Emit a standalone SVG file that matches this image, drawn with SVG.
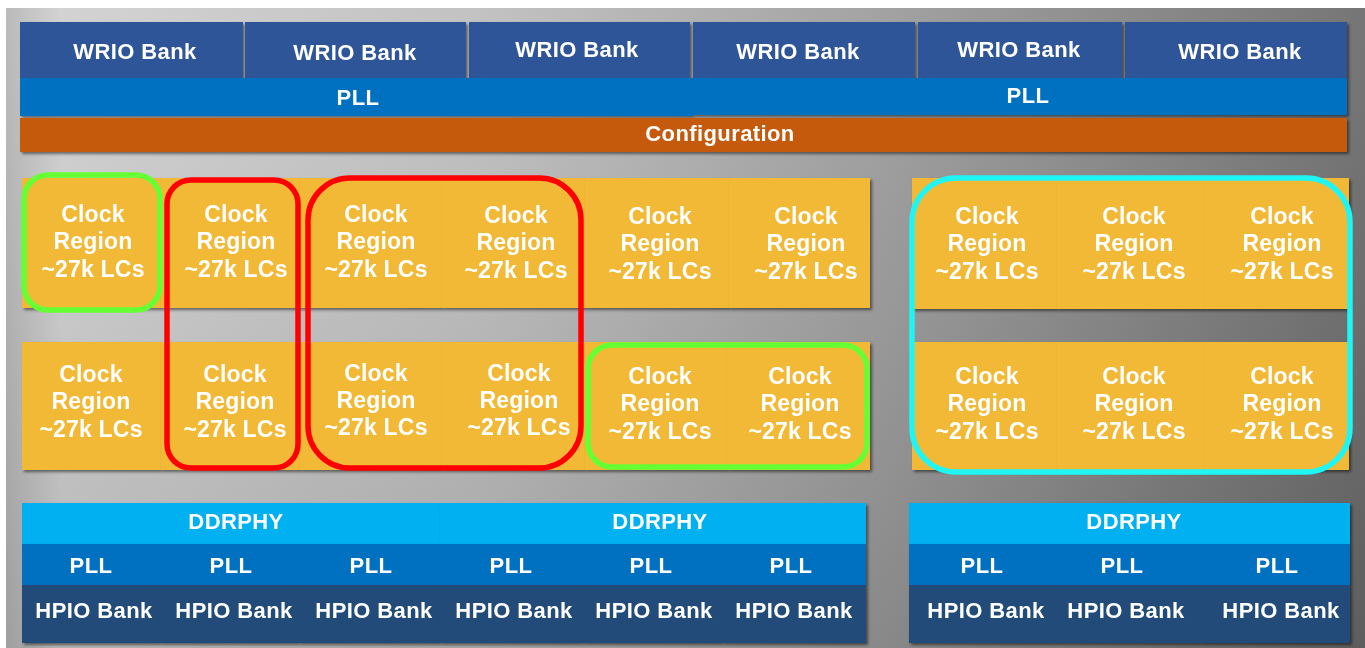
<svg xmlns="http://www.w3.org/2000/svg" width="1365" height="648" viewBox="0 0 1365 648">
<defs>
<linearGradient id="bg" x1="0" y1="0" x2="1" y2="0">
<stop offset="0" stop-color="#b4b4b4"/>
<stop offset="0.04" stop-color="#cfcfcf"/>
<stop offset="0.35" stop-color="#bdbdbd"/>
<stop offset="0.65" stop-color="#9a9a9a"/>
<stop offset="1" stop-color="#6a6a6a"/>
</linearGradient>
<linearGradient id="vg" x1="0" y1="0" x2="0" y2="1">
<stop offset="0" stop-color="#ffffff" stop-opacity="0.08"/>
<stop offset="1" stop-color="#000000" stop-opacity="0.12"/>
</linearGradient>
<filter id="sh" x="-10%" y="-10%" width="130%" height="130%">
<feDropShadow dx="2" dy="2" stdDeviation="1.5" flood-color="#000" flood-opacity="0.5"/>
</filter>
</defs>
<style>
text{font-family:"Liberation Sans",Arial,sans-serif;font-weight:bold;fill:#ffffff;text-anchor:middle;font-size:22px;letter-spacing:0.4px}
.ck{font-size:23px;letter-spacing:0.2px}
.wrio{fill:#2f5597}
.pll{fill:#0070c0}
.cfg{fill:#c55a11}
.tile{fill:#f1b934}
.ddr{fill:#00b0f0}
.hpio{fill:#204c79}
.hl{fill:none;stroke-width:5.5}
.g{stroke:#66ff33}
.r{stroke:#ff0000}
.c{stroke:#1ff5f5}
</style>
<rect x="0" y="0" width="1365" height="648" fill="#ffffff"/>
<rect x="6" y="8" width="1359" height="640" fill="url(#bg)"/>
<rect x="6" y="8" width="1359" height="640" fill="url(#vg)"/>

<g id="wrio-banks">
<g id="wrio1" filter="url(#sh)"><rect class="wrio" x="20" y="22" width="223" height="56"/><text x="135" y="59">WRIO Bank</text></g>
<g id="wrio2" filter="url(#sh)"><rect class="wrio" x="245" y="22" width="221" height="56"/><text x="355" y="60">WRIO Bank</text></g>
<g id="wrio3" filter="url(#sh)"><rect class="wrio" x="469" y="22" width="221" height="56"/><text x="577" y="57">WRIO Bank</text></g>
<g id="wrio4" filter="url(#sh)"><rect class="wrio" x="693" y="22" width="222" height="56"/><text x="798" y="59">WRIO Bank</text></g>
<g id="wrio5" filter="url(#sh)"><rect class="wrio" x="918" y="22" width="204" height="56"/><text x="1019" y="57">WRIO Bank</text></g>
<g id="wrio6" filter="url(#sh)"><rect class="wrio" x="1125" y="22" width="222" height="56"/><text x="1240" y="59">WRIO Bank</text></g>
</g>

<g id="pll-top">
<g id="pll-top-left" filter="url(#sh)"><rect class="pll" x="20" y="78" width="673" height="38"/><text x="358" y="105">PLL</text></g>
<g id="pll-top-right" filter="url(#sh)"><rect class="pll" x="693" y="78" width="654" height="37"/><text x="1028" y="103">PLL</text></g>
</g>

<g id="configuration" filter="url(#sh)"><rect class="cfg" x="20" y="118" width="1327" height="34"/><text x="720" y="141">Configuration</text></g>

<g id="clock-regions">
<g id="cr-t1" filter="url(#sh)"><rect class="tile" x="22" y="178" width="139" height="130"/><text class="ck"><tspan x="93" y="222">Clock</tspan><tspan x="93" y="249">Region</tspan><tspan x="93" y="277">~27k LCs</tspan></text></g>
<g id="cr-t2" filter="url(#sh)"><rect class="tile" x="161" y="178" width="139" height="130"/><text class="ck"><tspan x="236" y="222">Clock</tspan><tspan x="236" y="249">Region</tspan><tspan x="236" y="277">~27k LCs</tspan></text></g>
<g id="cr-t3" filter="url(#sh)"><rect class="tile" x="300" y="178" width="142" height="130"/><text class="ck"><tspan x="376" y="222">Clock</tspan><tspan x="376" y="249">Region</tspan><tspan x="376" y="277">~27k LCs</tspan></text></g>
<g id="cr-t4" filter="url(#sh)"><rect class="tile" x="442" y="178" width="143" height="130"/><text class="ck"><tspan x="516" y="223">Clock</tspan><tspan x="516" y="250">Region</tspan><tspan x="516" y="278">~27k LCs</tspan></text></g>
<g id="cr-t5" filter="url(#sh)"><rect class="tile" x="585" y="178" width="144" height="130"/><text class="ck"><tspan x="660" y="224">Clock</tspan><tspan x="660" y="251">Region</tspan><tspan x="660" y="279">~27k LCs</tspan></text></g>
<g id="cr-t6" filter="url(#sh)"><rect class="tile" x="729" y="178" width="141" height="130"/><text class="ck"><tspan x="806" y="224">Clock</tspan><tspan x="806" y="251">Region</tspan><tspan x="806" y="279">~27k LCs</tspan></text></g>

<g id="cr-b1" filter="url(#sh)"><rect class="tile" x="22" y="342" width="139" height="128"/><text class="ck"><tspan x="91" y="382">Clock</tspan><tspan x="91" y="409">Region</tspan><tspan x="91" y="437">~27k LCs</tspan></text></g>
<g id="cr-b2" filter="url(#sh)"><rect class="tile" x="161" y="342" width="139" height="128"/><text class="ck"><tspan x="235" y="382">Clock</tspan><tspan x="235" y="409">Region</tspan><tspan x="235" y="437">~27k LCs</tspan></text></g>
<g id="cr-b3" filter="url(#sh)"><rect class="tile" x="300" y="342" width="142" height="128"/><text class="ck"><tspan x="376" y="381">Clock</tspan><tspan x="376" y="408">Region</tspan><tspan x="376" y="435">~27k LCs</tspan></text></g>
<g id="cr-b4" filter="url(#sh)"><rect class="tile" x="442" y="342" width="143" height="128"/><text class="ck"><tspan x="519" y="381">Clock</tspan><tspan x="519" y="408">Region</tspan><tspan x="519" y="435">~27k LCs</tspan></text></g>
<g id="cr-b5" filter="url(#sh)"><rect class="tile" x="585" y="342" width="142" height="128"/><text class="ck"><tspan x="660" y="384">Clock</tspan><tspan x="660" y="411">Region</tspan><tspan x="660" y="439">~27k LCs</tspan></text></g>
<g id="cr-b6" filter="url(#sh)"><rect class="tile" x="727" y="342" width="143" height="128"/><text class="ck"><tspan x="800" y="384">Clock</tspan><tspan x="800" y="411">Region</tspan><tspan x="800" y="439">~27k LCs</tspan></text></g>

<g id="cr-rt1" filter="url(#sh)"><rect class="tile" x="912" y="178" width="145" height="131"/><text class="ck"><tspan x="987" y="224">Clock</tspan><tspan x="987" y="251">Region</tspan><tspan x="987" y="279">~27k LCs</tspan></text></g>
<g id="cr-rt2" filter="url(#sh)"><rect class="tile" x="1057" y="178" width="148" height="131"/><text class="ck"><tspan x="1134" y="224">Clock</tspan><tspan x="1134" y="251">Region</tspan><tspan x="1134" y="279">~27k LCs</tspan></text></g>
<g id="cr-rt3" filter="url(#sh)"><rect class="tile" x="1205" y="178" width="144" height="131"/><text class="ck"><tspan x="1282" y="224">Clock</tspan><tspan x="1282" y="251">Region</tspan><tspan x="1282" y="279">~27k LCs</tspan></text></g>
<g id="cr-rb1" filter="url(#sh)"><rect class="tile" x="912" y="342" width="145" height="128"/><text class="ck"><tspan x="987" y="384">Clock</tspan><tspan x="987" y="411">Region</tspan><tspan x="987" y="439">~27k LCs</tspan></text></g>
<g id="cr-rb2" filter="url(#sh)"><rect class="tile" x="1057" y="342" width="148" height="128"/><text class="ck"><tspan x="1134" y="384">Clock</tspan><tspan x="1134" y="411">Region</tspan><tspan x="1134" y="439">~27k LCs</tspan></text></g>
<g id="cr-rb3" filter="url(#sh)"><rect class="tile" x="1205" y="342" width="144" height="128"/><text class="ck"><tspan x="1282" y="384">Clock</tspan><tspan x="1282" y="411">Region</tspan><tspan x="1282" y="439">~27k LCs</tspan></text></g>
</g>

<g id="highlights">
<rect id="hl-green1" class="hl g" x="24" y="175" width="136" height="135" rx="24"/>
<rect id="hl-red1" class="hl r" x="167" y="180" width="131" height="288" rx="24"/>
<rect id="hl-red2" class="hl r" x="308" y="178" width="273" height="290" rx="42"/>
<rect id="hl-green2" class="hl g" x="588" y="345" width="279" height="122" rx="24"/>
<rect id="hl-cyan" class="hl c" x="912" y="178" width="438" height="294" rx="44"/>
</g>

<g id="bottom">
<g id="ddr1" filter="url(#sh)"><rect class="ddr" x="22" y="503" width="418" height="41"/><text x="236" y="529">DDRPHY</text></g>
<g id="ddr2" filter="url(#sh)"><rect class="ddr" x="440" y="503" width="426" height="41"/><text x="660" y="529">DDRPHY</text></g>
<g id="ddr3" filter="url(#sh)"><rect class="ddr" x="909" y="503" width="441" height="41"/><text x="1134" y="529">DDRPHY</text></g>

<g id="pllb1" filter="url(#sh)"><rect class="pll" x="22" y="544" width="138" height="41"/><text x="91" y="573">PLL</text></g>
<g id="pllb2" filter="url(#sh)"><rect class="pll" x="160" y="544" width="138" height="41"/><text x="231" y="573">PLL</text></g>
<g id="pllb3" filter="url(#sh)"><rect class="pll" x="298" y="544" width="142" height="41"/><text x="371" y="573">PLL</text></g>
<g id="pllb4" filter="url(#sh)"><rect class="pll" x="440" y="544" width="142" height="41"/><text x="511" y="573">PLL</text></g>
<g id="pllb5" filter="url(#sh)"><rect class="pll" x="582" y="544" width="140" height="41"/><text x="651" y="573">PLL</text></g>
<g id="pllb6" filter="url(#sh)"><rect class="pll" x="722" y="544" width="144" height="41"/><text x="791" y="573">PLL</text></g>
<g id="pllb7" filter="url(#sh)"><rect class="pll" x="909" y="544" width="144" height="41"/><text x="982" y="573">PLL</text></g>
<g id="pllb8" filter="url(#sh)"><rect class="pll" x="1053" y="544" width="147" height="41"/><text x="1122" y="573">PLL</text></g>
<g id="pllb9" filter="url(#sh)"><rect class="pll" x="1200" y="544" width="150" height="41"/><text x="1277" y="573">PLL</text></g>

<g id="hpio1" filter="url(#sh)"><rect class="hpio" x="22" y="585" width="138" height="58"/><text x="94" y="618">HPIO Bank</text></g>
<g id="hpio2" filter="url(#sh)"><rect class="hpio" x="160" y="585" width="138" height="58"/><text x="234" y="618">HPIO Bank</text></g>
<g id="hpio3" filter="url(#sh)"><rect class="hpio" x="298" y="585" width="142" height="58"/><text x="374" y="618">HPIO Bank</text></g>
<g id="hpio4" filter="url(#sh)"><rect class="hpio" x="440" y="585" width="142" height="58"/><text x="514" y="618">HPIO Bank</text></g>
<g id="hpio5" filter="url(#sh)"><rect class="hpio" x="582" y="585" width="140" height="58"/><text x="654" y="618">HPIO Bank</text></g>
<g id="hpio6" filter="url(#sh)"><rect class="hpio" x="722" y="585" width="144" height="58"/><text x="794" y="618">HPIO Bank</text></g>
<g id="hpio7" filter="url(#sh)"><rect class="hpio" x="909" y="585" width="144" height="58"/><text x="986" y="618">HPIO Bank</text></g>
<g id="hpio8" filter="url(#sh)"><rect class="hpio" x="1053" y="585" width="147" height="58"/><text x="1126" y="618">HPIO Bank</text></g>
<g id="hpio9" filter="url(#sh)"><rect class="hpio" x="1200" y="585" width="150" height="58"/><text x="1281" y="618">HPIO Bank</text></g>
</g>
</svg>
